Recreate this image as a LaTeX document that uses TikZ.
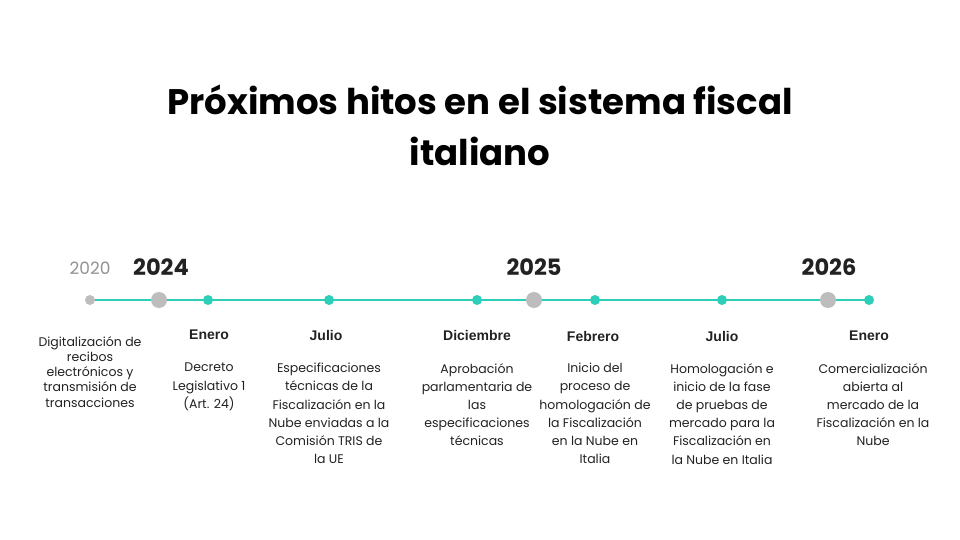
\documentclass[tikz,border=0pt]{standalone}
\usepackage{fontspec}
\setmainfont{Poppins}
\newfontfamily\monthfont{Liberation Sans}
\usetikzlibrary{positioning}
\definecolor{hitoteal}{HTML}{2ECFB8}
\definecolor{hitogray}{HTML}{BDBDBD}
\definecolor{hitotext}{HTML}{222222}

\begin{document}
\begin{tikzpicture}[x=1pt,y=-1pt,line cap=round,
    year/.style={font=\fontsize{22.5}{24}\selectfont\bfseries,text=hitotext},
    month/.style={font=\monthfont\fontsize{14}{16}\selectfont\bfseries,text=hitotext},
    hito/.style={align=center,anchor=north,inner sep=0pt,font=\fontsize{12.5}{18.2}\selectfont,text=hitotext},
    dot/.style={circle,fill=hitoteal,inner sep=0pt,minimum size=10pt},
    bigdot/.style={circle,fill=hitogray,inner sep=0pt,minimum size=16pt}]

                \useasboundingbox[fill=white] (0,0) rectangle (960,540);

                % titulo
                \node[align=center,font=\fontsize{35.5}{51}\selectfont\bfseries,text=black] (titulo) at (480,125)
                    {Próximos hitos en el sistema fiscal\\italiano};

                % linea de tiempo
                \coordinate (ini) at (90,300);
                \coordinate (fin) at (869,300);
                \draw[hitoteal,line width=2.6pt] (ini) -- (fin);

                \node[dot,fill=hitogray] (p2020) at (ini) {};
                \node[bigdot] (p2024) at (159,300) {};
                \node[dot] (ene24) at (208,300) {};
                \node[dot] (jul24) at (329,300) {};
                \node[dot] (dic24) at (477,300) {};
                \node[bigdot] (p2025) at (534,300) {};
                \node[dot] (feb25) at (595,300) {};
                \node[dot] (jul25) at (722,300) {};
                \node[bigdot] (p2026) at (828,300) {};
                \node[dot] (ene26) at (fin) {};

                % anios
                \node[font=\fontsize{17}{18}\selectfont,text=gray!85] at (90,268) {2020};
                \node[year] at (161,267) {2024};
                \node[year] at (534,267) {2025};
                \node[year] at (829,267) {2026};

                % meses
                \node[month] at (209,335) {Enero};
                \node[month] at (326,335) {Julio};
                \node[month] at (477,335) {Diciembre};
                \node[month] at (593,336) {Febrero};
                \node[month] at (722,336) {Julio};
                \node[month] at (869,336) {Enero};

                % descripciones
                \node[hito,font=\fontsize{12.5}{15.3}\selectfont] at (90,336)
                    {Digitalización de\\recibos\\electrónicos y\\transmisión de\\transacciones};
                \node[hito] at (209,363) {Decreto\\Legislativo 1\\(Art. 24)};
                \node[hito] at (329,363) {Especificaciones\\técnicas de la\\Fiscalización en la\\Nube enviadas a la\\Comisión TRIS de\\la UE};
                \node[hito] at (477,363) {Aprobación\\parlamentaria de\\las\\especificaciones\\técnicas};
                \node[hito] at (595,363) {Inicio del\\proceso de\\homologación de\\la Fiscalización\\en la Nube en\\Italia};
                \node[hito] at (722,363) {Homologación e\\inicio de la fase\\de pruebas de\\mercado para la\\Fiscalización en\\la Nube en Italia};
                \node[hito] at (873,363) {Comercialización\\abierta al\\mercado de la\\Fiscalización en la\\Nube};
\end{tikzpicture}
\end{document}
